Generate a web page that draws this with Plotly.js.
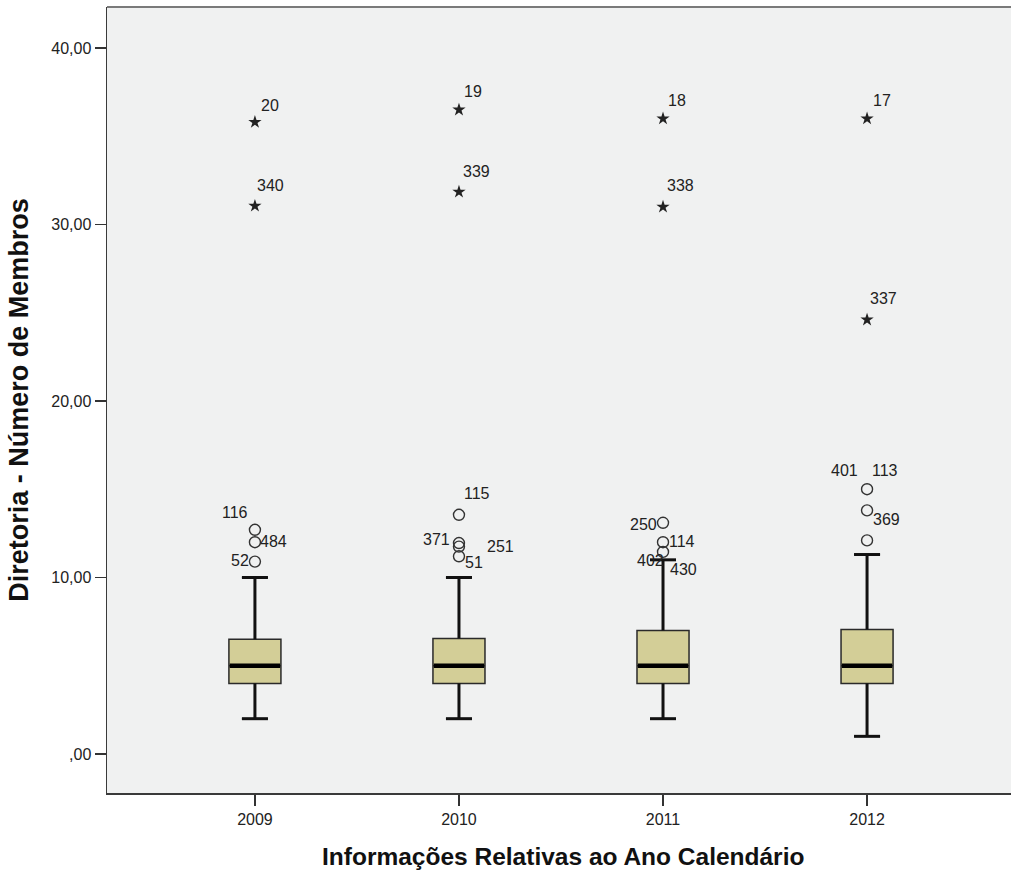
<!DOCTYPE html>
<html>
<head>
<meta charset="utf-8">
<script src="https://cdn.plot.ly/plotly-3.0.1.min.js"></script>
<style>
  html, body { margin: 0; padding: 0; background: #ffffff; overflow: hidden; }
  #chart { width: 1030px; height: 877px; }
</style>
</head>
<body>
<div id="chart"></div>
<script>
// Board size (number of members) by calendar year
const years = ['2009', '2010', '2011', '2012'];
const q1 = [4, 4, 4, 4];
const medians = [5, 5, 5, 5];
const q3 = [6.5, 6.55, 7.0, 7.05];
const whiskerLow = [2, 2, 2, 1];
const whiskerHigh = [10, 10, 11, 11.3];

// Outliers (circles) with case numbers
const outlierYear = ['2009', '2009', '2009', '2010', '2010', '2010', '2010', '2011', '2011', '2011', '2011', '2012', '2012', '2012', '2012'];
const outlierValue = [12.7, 12.0, 10.9, 13.55, 11.95, 11.75, 11.2, 13.1, 12.0, 11.45, 11.45, 15.0, 15.0, 13.8, 12.1];
const outlierCase = ['116', '484', '52', '115', '371', '251', '51', '250', '114', '402', '430', '401', '113', '369', ''];

// Extreme values (stars) with case numbers
const extremeYear = ['2009', '2009', '2010', '2010', '2011', '2011', '2012', '2012'];
const extremeValue = [35.8, 31.05, 36.5, 31.85, 36.0, 31.0, 36.0, 24.6];
const extremeCase = ['20', '340', '19', '339', '18', '338', '17', '337'];

// Y tick labels in pt-BR decimal format
const yTickValues = [0, 10, 20, 30, 40];
const yTickLabels = [',00', '10,00', '20,00', '30,00', '40,00'];

// Case-label placement (screen pixels relative to the marker)
const labelPlacement = {
  '20':  { dx: 4,  dy: -17, side: 'left' },
  '340': { dx: 0,  dy: -20, side: 'left' },
  '116': { dx: -5, dy: -17, side: 'right' },
  '484': { dx: 3,  dy: -1,  side: 'left' },
  '52':  { dx: -4, dy: -1,  side: 'right' },
  '19':  { dx: 3,  dy: -18, side: 'left' },
  '339': { dx: 2,  dy: -20, side: 'left' },
  '115': { dx: 3,  dy: -21, side: 'left' },
  '371': { dx: -7, dy: -4,  side: 'right' },
  '251': { dx: 26, dy: 0,   side: 'left' },
  '51':  { dx: 4,  dy: 6,   side: 'left' },
  '18':  { dx: 3,  dy: -18, side: 'left' },
  '338': { dx: 2,  dy: -21, side: 'left' },
  '250': { dx: -4, dy: 2,   side: 'right' },
  '114': { dx: 4,  dy: -1,  side: 'left' },
  '402': { dx: 3,  dy: 9,   side: 'right' },
  '430': { dx: 5,  dy: 18,  side: 'left' },
  '17':  { dx: 4,  dy: -18, side: 'left' },
  '337': { dx: 1,  dy: -21, side: 'left' },
  '401': { dx: -7, dy: -19, side: 'right' },
  '113': { dx: 3,  dy: -19, side: 'left' },
  '369': { dx: 4,  dy: 9,   side: 'left' }
};

const FONT = '"Liberation Sans", Arial, sans-serif';
const BOX_WIDTH = 0.255;
const CAP_HALF = BOX_WIDTH / 4;
const pos = years.map((_, i) => i);
const idx = y => years.indexOf(y);

// Box bodies from the precomputed statistics
const boxTrace = {
  type: 'box',
  x: pos,
  q1: q1,
  median: medians,
  q3: q3,
  lowerfence: whiskerLow,
  upperfence: whiskerHigh,
  width: BOX_WIDTH,
  whiskerwidth: 0.5,
  boxpoints: false,
  fillcolor: '#D3CE97',
  line: { color: '#2a2a2a', width: 1.5 },
  hoverinfo: 'skip',
  showlegend: false
};

// Heavier whiskers and caps
const wx = [], wy = [];
pos.forEach((p, i) => {
  wx.push(p, p, null, p - CAP_HALF, p + CAP_HALF, null);
  wy.push(q3[i], whiskerHigh[i], null, whiskerHigh[i], whiskerHigh[i], null);
  wx.push(p, p, null, p - CAP_HALF, p + CAP_HALF, null);
  wy.push(q1[i], whiskerLow[i], null, whiskerLow[i], whiskerLow[i], null);
});
const whiskerTrace = {
  type: 'scatter', mode: 'lines', x: wx, y: wy,
  line: { color: '#111111', width: 3 },
  hoverinfo: 'skip', showlegend: false
};

// Thick median bars
const mx = [], my = [];
pos.forEach((p, i) => {
  mx.push(p - BOX_WIDTH / 2 + 0.004, p + BOX_WIDTH / 2 - 0.004, null);
  my.push(medians[i], medians[i], null);
});
const medianTrace = {
  type: 'scatter', mode: 'lines', x: mx, y: my,
  line: { color: '#000000', width: 4.5 },
  hoverinfo: 'skip', showlegend: false
};

// Coincident cases share one marker
const seen = new Set();
const ox = [], oy = [];
outlierYear.forEach((yr, i) => {
  const key = yr + '|' + outlierValue[i];
  if (seen.has(key)) return;
  seen.add(key);
  ox.push(idx(yr));
  oy.push(outlierValue[i]);
});
const outlierTrace = {
  type: 'scatter', mode: 'markers',
  x: ox, y: oy,
  marker: { symbol: 'circle-open', size: 11, color: '#333333', line: { width: 1.4, color: '#333333' } },
  hoverinfo: 'y', showlegend: false
};

const extremeTrace = {
  type: 'scatter', mode: 'markers',
  x: extremeYear.map(idx), y: extremeValue,
  marker: { symbol: 'star', size: 10, color: '#222222', line: { width: 0 } },
  hoverinfo: 'y', showlegend: false
};

// Case-number annotations
const annotations = [];
function addLabels(yrs, vals, cases) {
  cases.forEach((c, i) => {
    if (!c) return;
    const pl = labelPlacement[c];
    annotations.push({
      x: idx(yrs[i]), y: vals[i], xref: 'x', yref: 'y',
      text: c, showarrow: false,
      xanchor: pl.side === 'left' ? 'left' : 'right',
      yanchor: 'middle',
      xshift: pl.dx, yshift: -pl.dy,
      font: { family: FONT, size: 16, color: '#222222' }
    });
  });
}
addLabels(outlierYear, outlierValue, outlierCase);
addLabels(extremeYear, extremeValue, extremeCase);

// Axis titles
annotations.push({
  xref: 'paper', yref: 'paper', x: 0.5017, y: -0.0814,
  xanchor: 'center', yanchor: 'middle', showarrow: false,
  text: 'Informações Relativas ao Ano Calendário',
  font: { family: FONT, size: 24.5, color: '#111111', weight: 'bold' }
});
annotations.push({
  xref: 'paper', yref: 'paper', x: -0.097, y: 0.5,
  xanchor: 'center', yanchor: 'middle', showarrow: false, textangle: -90,
  text: 'Diretoria - Número de Membros',
  font: { family: FONT, size: 27, color: '#111111', weight: 'bold' }
});

const layout = {
  width: 1030, height: 877,
  margin: { l: 107, r: 14, t: 7, b: 84 },
  paper_bgcolor: '#ffffff',
  plot_bgcolor: '#F0F1F1',
  showlegend: false,
  xaxis: {
    range: [-0.725, 3.73],
    tickmode: 'array', tickvals: pos, ticktext: years,
    ticks: 'outside', ticklen: 11, tickwidth: 1.5, tickcolor: '#333333',
    showgrid: false, zeroline: false,
    showline: true, linecolor: '#3a3a3a', linewidth: 1.5,
    tickfont: { family: FONT, size: 16, color: '#222222' }
  },
  yaxis: {
    range: [-2.21, 42.32],
    tickmode: 'array', tickvals: yTickValues, ticktext: yTickLabels,
    ticks: 'outside', ticklen: 11, tickwidth: 1.5, tickcolor: '#333333',
    showgrid: false, zeroline: false,
    showline: true, linecolor: '#3a3a3a', linewidth: 1.5,
    tickfont: { family: FONT, size: 16, color: '#222222' }
  },
  // lighter frame edge along the top of the plot area
  shapes: [{
    type: 'line', xref: 'paper', yref: 'paper', x0: 0, x1: 1, y0: 1, y1: 1,
    line: { color: '#7a7a7a', width: 2 }
  }],
  annotations: annotations
};

Plotly.newPlot('chart', [boxTrace, whiskerTrace, medianTrace, outlierTrace, extremeTrace], layout, { displayModeBar: false, staticPlot: true });
</script>
</body>
</html>
